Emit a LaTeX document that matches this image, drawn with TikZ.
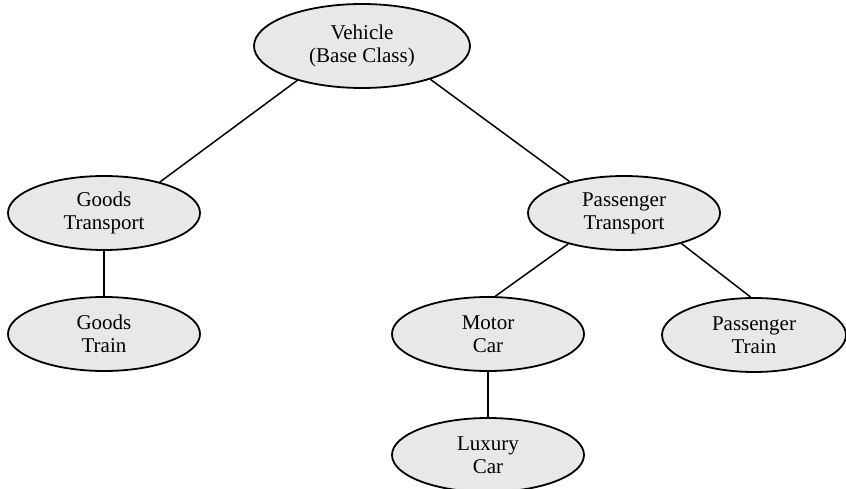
\documentclass[tikz,border=0pt]{standalone}
\usepackage{fontspec}
\setmainfont{Liberation Serif}
\usetikzlibrary{shapes.geometric}
\definecolor{classfill}{HTML}{E8E8E8}
\begin{document}
\begin{tikzpicture}[x=1pt,y=-1pt,
  classnode/.style={ellipse, draw=black, line width=1.8pt, fill=classfill,
    inner sep=0pt, align=center,
    font=\fontsize{21pt}{23pt}\selectfont},
  link/.style={draw=black, line width=1.5pt}]
  \useasboundingbox (0,0) rectangle (846,489);

  % class hierarchy
  \node[classnode, minimum width=216pt, minimum height=84pt] (veh) at (362,46) {Vehicle\\(Base Class)};
  \node[classnode, minimum width=192pt, minimum height=74pt] (gt)  at (104,213) {Goods\\Transport};
  \node[classnode, minimum width=192pt, minimum height=74pt] (gtr) at (104,334) {Goods\\Train};
  \node[classnode, minimum width=192pt, minimum height=74pt] (pt)  at (624,213) {Passenger\\Transport};
  \node[classnode, minimum width=192pt, minimum height=74pt] (mc)  at (488,334) {Motor\\Car};
  \node[classnode, minimum width=184pt, minimum height=74pt] (ptr) at (754,335) {Passenger\\Train};
  \node[classnode, minimum width=192pt, minimum height=74pt] (lc)  at (488,455) {Luxury\\Car};

  % inheritance links
  \draw[link] (veh.208) -- (gt.29);
  \draw[link] (veh.334) -- (pt.150);
  \draw[link] (gt.south) -- (gtr.north);
  \draw[link] (pt.209) -- (mc.79);
  \draw[link] (pt.332) -- (ptr.95);
  \draw[link] (mc.south) -- (lc.north);
\end{tikzpicture}
\end{document}
